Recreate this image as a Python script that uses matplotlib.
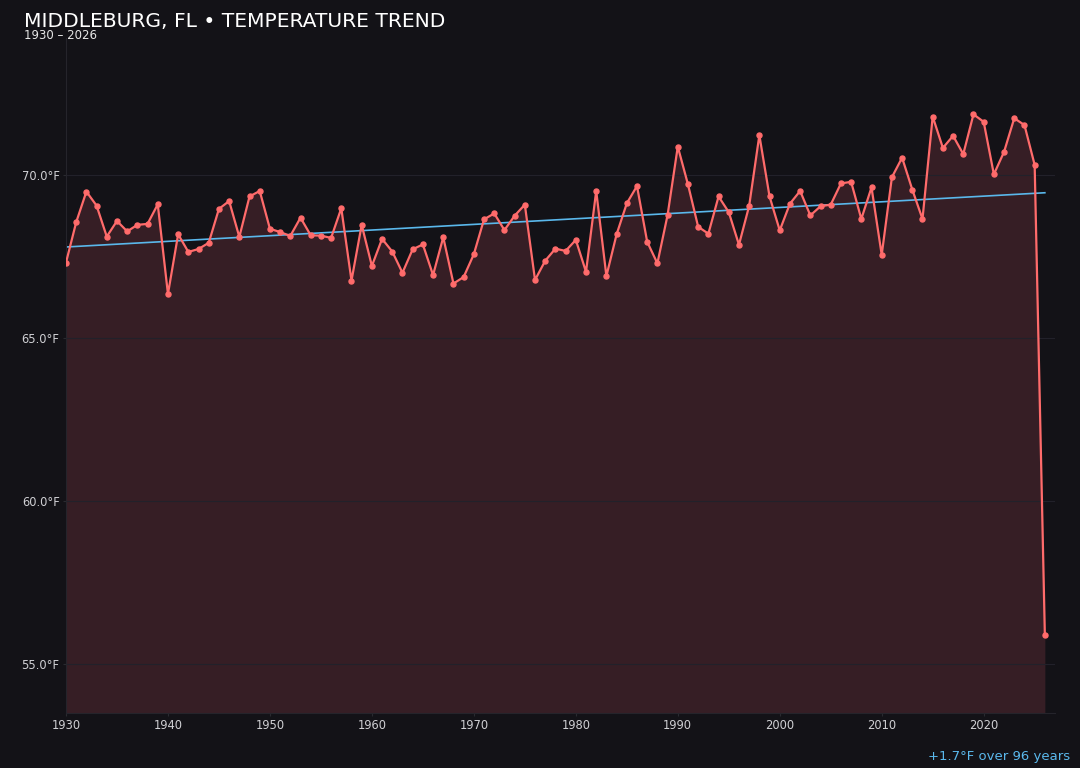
import numpy as np
import matplotlib
matplotlib.use("Agg")
import matplotlib.pyplot as plt

years = list(range(1930, 2027))
temps = [
    67.31, 68.55, 69.49, 69.06, 68.11, 68.59, 68.27, 68.47, 68.50, 69.10,
    66.35, 68.18, 67.64, 67.73, 67.92, 68.96, 69.20, 68.10, 69.34, 69.51,
    68.35, 68.25, 68.13, 68.69, 68.15, 68.14, 68.07, 68.98, 66.76, 68.47,
    67.21, 68.04, 67.65, 67.00, 67.72, 67.87, 66.93, 68.09, 66.67, 66.87,
    67.57, 68.64, 68.82, 68.31, 68.75, 69.09, 66.78, 67.37, 67.74, 67.67,
    68.01, 67.03, 69.51, 66.90, 68.18, 69.13, 69.66, 67.95, 67.29, 68.77,
    70.87, 69.71, 68.41, 68.20, 69.34, 68.86, 67.86, 69.05, 71.22, 69.34,
    68.30, 69.12, 69.51, 68.76, 69.04, 69.09, 69.74, 69.79, 68.65, 69.62,
    67.55, 69.93, 70.53, 69.55, 68.65, 71.79, 70.83, 71.20, 70.64, 71.86,
    71.63, 70.02, 70.71, 71.74, 71.53, 70.31, 55.89,
]
yticks = [55.0, 60.0, 65.0, 70.0]
title = "MIDDLEBURG, FL \u2022 TEMPERATURE TREND"
subtitle = "1930 \u2013 2026"
trend_note = "+1.7\u00b0F over 96 years"

bg = "#131217"
line_c = "#ff6b6b"
trend_c = "#5ab8ec"

fig = plt.figure(figsize=(10.8, 7.68), dpi=100, facecolor=bg)
ax = fig.add_axes([0.0611, 0.0716, 0.9158, 0.8789])
ax.set_facecolor(bg)

x = np.array(years)
y = np.array(temps)
ymin = 53.5
ax.fill_between(x, y, ymin, color="#3a2027", alpha=0.9, linewidth=0)
ax.plot(x, y, color=line_c, lw=1.6, marker="o", ms=3.6, zorder=3)

slope, icpt = np.polyfit(x, y, 1)
ax.plot(x, slope * x + icpt, color=trend_c, lw=1.2, zorder=2)

ax.set_xlim(1930, 2027)
ax.set_ylim(ymin, 74.2)
ax.set_yticks(yticks)
ax.set_yticklabels([f"{v:.1f}\u00b0F" for v in yticks])
ax.set_xticks(range(1930, 2021, 10))
ax.tick_params(colors="#2a2a30", labelcolor="#d0d0d4", labelsize=8.3, length=2, pad=2.5)
ax.grid(axis="y", color="#22212a", lw=0.8)
for s in ["top", "right"]:
    ax.spines[s].set_visible(False)
for s in ["left", "bottom"]:
    ax.spines[s].set_color("#25242b")

fig.text(24 / 1080, 1 - 27 / 768, title, color="white", fontsize=14.6, va="baseline")
fig.text(24 / 1080, 1 - 39 / 768, subtitle, color="#e6e6e6", fontsize=8.5, va="baseline")
fig.text(1 - 10 / 1080, 1 - 760 / 768, trend_note, color=trend_c, fontsize=9.5, ha="right", va="baseline")

fig.savefig("out.png", dpi=100, facecolor=bg)
